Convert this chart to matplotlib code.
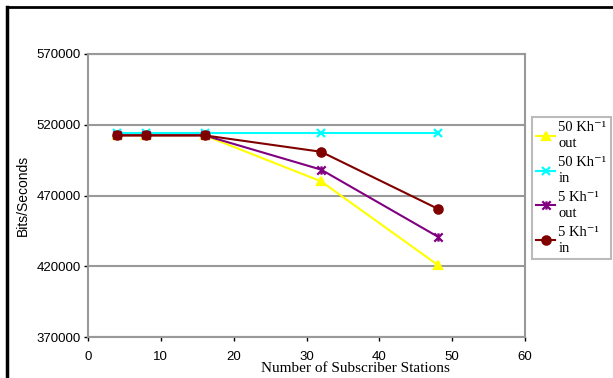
import matplotlib.pyplot as plt
from matplotlib.lines import Line2D
from matplotlib.path import Path

# Data
stations = [4, 8, 16, 32, 48]
out_50 = [512500, 512500, 512500, 480000, 421000]
in_50 = [514000, 514000, 514000, 514000, 514000]
out_5 = [512500, 512500, 512500, 488300, 441000]
in_5 = [512500, 512500, 512500, 500900, 460700]

labels = ['50 Kh\u207b\u00b9\nout', '50 Kh\u207b\u00b9\nin', '5 Kh\u207b\u00b9\nout', '5 Kh\u207b\u00b9\nin']
colors = ['#ffff00', '#00ffff', '#800080', '#800000']

# excel style star: x with a vertical bar
star = Path([(-1, -1), (1, 1), (-1, 1), (1, -1), (0, -1), (0, 1)],
            [Path.MOVETO, Path.LINETO, Path.MOVETO, Path.LINETO, Path.MOVETO, Path.LINETO])
markers = ['^', 'x', star, 'o']
series = [out_50, in_50, out_5, in_5]

fig = plt.figure(figsize=(6.13, 3.78), dpi=100)
ax = fig.add_axes([88 / 613, 1 - 337 / 378, (525 - 88) / 613, (337 - 54) / 378])

for ys, c, m, lab in zip(series, colors, markers, labels):
    ax.plot(stations, ys, color=c, marker=m, markersize=6, markeredgewidth=1.6,
            linewidth=1.5, label=lab)

ax.set_xlim(0, 60)
ax.set_ylim(370000, 570000)
ax.set_xticks(range(0, 61, 10))
ax.set_yticks(range(370000, 570001, 50000))
for t in ax.get_xticklabels() + ax.get_yticklabels():
    t.set_fontfamily('Liberation Sans')
    t.set_fontsize(9.5)
ax.tick_params(length=3, width=1, color='black', pad=2)
ax.tick_params(axis='x', pad=7)
ax.grid(axis='y', color='#999999', linewidth=1.5)
for s in ax.spines.values():
    s.set_color('#999999')
    s.set_linewidth(1.5)

ax.set_ylabel('Bits/Seconds', fontfamily='Liberation Sans', fontsize=10, labelpad=5)
fig.text(355 / 613, 1 - 368 / 378, 'Number of Subscriber Stations',
         fontfamily='Liberation Serif', fontsize=11, ha='center', va='center')

handles = [Line2D([0], [0], color=c, marker=m, markersize=6, markeredgewidth=1.6, linewidth=1.5)
           for c, m in zip(colors, markers)]
leg = fig.legend(handles, labels, loc='upper left', bbox_to_anchor=(532 / 613, 1 - 117 / 378),
                 prop={'family': ['Liberation Serif', 'DejaVu Serif'], 'size': 10.5}, frameon=True,
                 fancybox=False, handlelength=1.3, handletextpad=0.2, borderpad=0.3,
                 labelspacing=0.4, borderaxespad=0)
for t in leg.get_texts():
    t.set_linespacing(1.3)
leg.get_frame().set_edgecolor('#aaaaaa')
leg.get_frame().set_linewidth(1.5)

# outer black frame (left and top)
fig.add_artist(Line2D([6.5 / 613, 6.5 / 613], [0, 1 - 6.5 / 378], color='black', linewidth=2.5))
fig.add_artist(Line2D([6.5 / 613, 1], [1 - 6.5 / 378, 1 - 6.5 / 378], color='black', linewidth=2))

fig.savefig('out.png', dpi=100)
